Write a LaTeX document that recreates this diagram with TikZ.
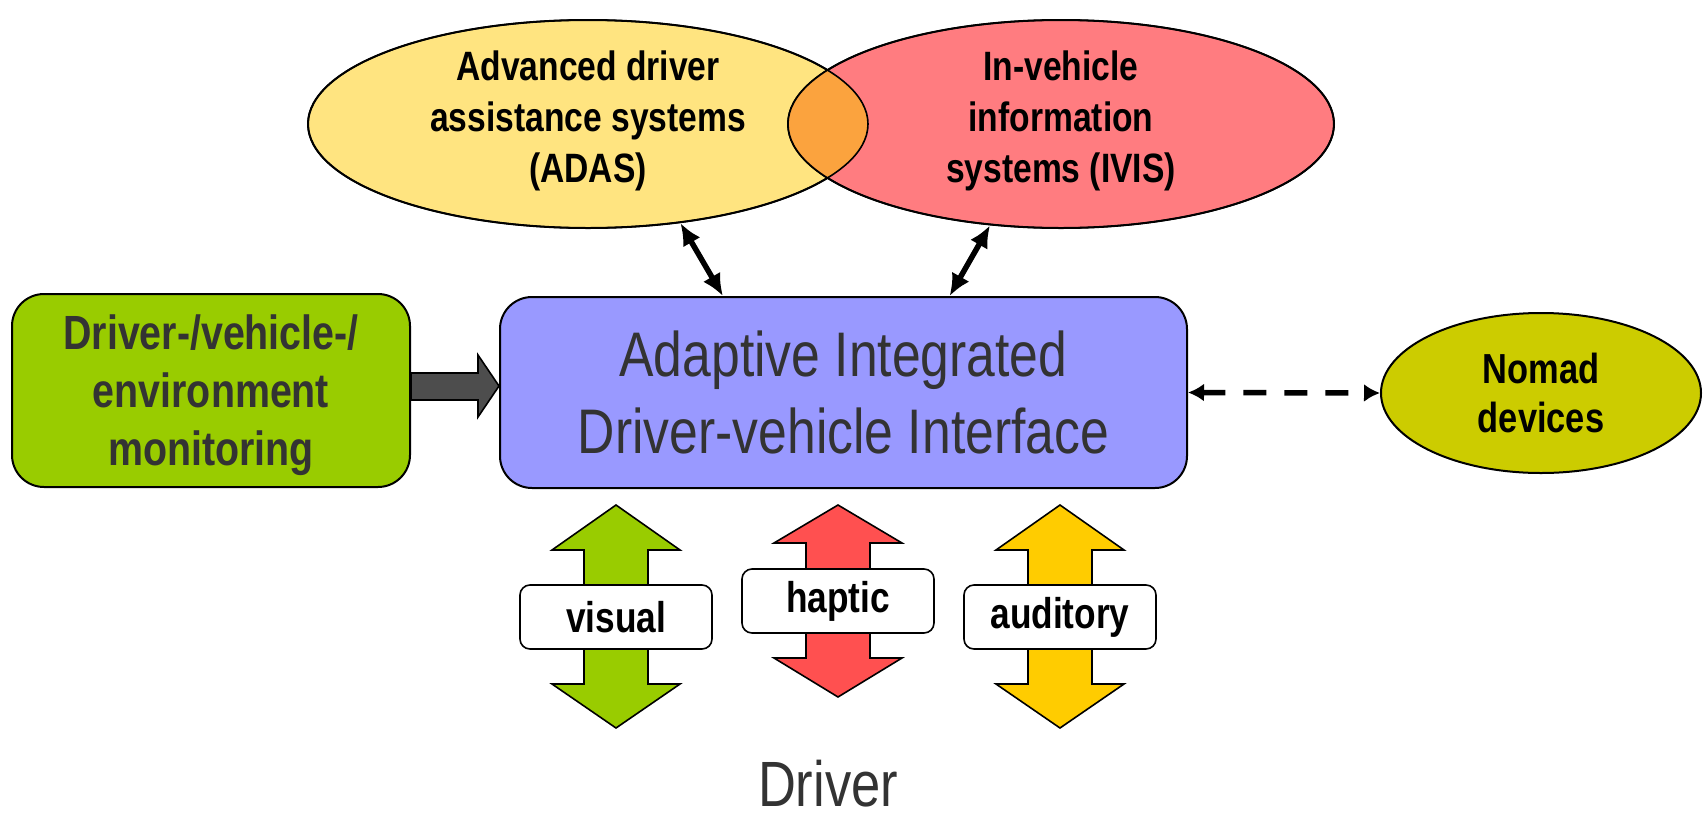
\documentclass[tikz,border=0pt]{standalone}
\usepackage{fontspec}
\setmainfont{Liberation Sans}[FakeStretch=0.82]
\usepackage{tikz}
\usetikzlibrary{calc, shapes, arrows.meta}
\tikzset{>=latex}
\definecolor{adasyellow}{HTML}{FFE480}
\definecolor{ivisred}{HTML}{FF7C80}
\definecolor{overlaporange}{HTML}{FBA33E}
\definecolor{aidviblue}{HTML}{9999FF}
\definecolor{monitorgreen}{HTML}{99CC00}
\definecolor{nomadolive}{HTML}{CCCC00}
\definecolor{arrowgray}{HTML}{4D4D4D}
\definecolor{hapticred}{HTML}{FF5050}
\definecolor{auditoryyellow}{HTML}{FFCC00}
\definecolor{textgray}{HTML}{333333}

\begin{document}
\begin{tikzpicture}[x=0.5pt, y=-0.5pt,
  box/.style={draw=black, line width=1pt, rounded corners=16pt, inner sep=0pt, align=center},
  oval/.style={ellipse, draw=black, line width=1pt, inner sep=0pt, align=center, font=\bfseries\fontsize{20.5}{25.5}\selectfont},
  modelabel/.style={draw=black, line width=0.8pt, fill=white, rounded corners=5pt, minimum width=96pt, minimum height=32pt, inner sep=0pt, font=\bfseries\fontsize{21.5}{25}\selectfont},
  blockarrow/.style={draw=black, line width=0.8pt}]
\useasboundingbox (0,0) rectangle (1704,820);

% systems on top
\node[oval, fill=adasyellow, minimum width=280pt, minimum height=104pt, text depth=7pt] (adas) at (588,124) {Advanced driver\\assistance systems\\(ADAS)};
\node[oval, fill=ivisred, minimum width=273pt, minimum height=104pt, text depth=7pt] (ivis) at (1061,124) {In-vehicle\\information\\systems (IVIS)};
\begin{scope}
\clip (adas.center) ellipse [x radius=140pt, y radius=52pt];
\fill[overlaporange] (ivis.center) ellipse [x radius=136.5pt, y radius=52pt];
\end{scope}
\draw[line width=0.8pt] (adas.center) ellipse [x radius=140pt, y radius=52pt]
  (ivis.center) ellipse [x radius=136.5pt, y radius=52pt];

% interface and the blocks beside it
\node[box, fill=aidviblue, minimum width=343.5pt, minimum height=95.5pt, text=textgray, font=\fontsize{31.5}{38.5}\selectfont] (aidvi) at (843.5,392.5) {Adaptive Integrated\\Driver-vehicle Interface};
\node[box, fill=monitorgreen, minimum width=199pt, minimum height=96.5pt, text=textgray, text depth=0pt, font=\bfseries\fontsize{24}{29}\selectfont] (monitor) at (211,390.5) {Driver-/vehicle-/\\environment\\monitoring};
\node[oval, fill=nomadolive, minimum width=160pt, minimum height=80pt, font=\bfseries\fontsize{21}{24.5}\selectfont] (nomad) at (1541,393) {Nomad\\devices};

\path[<->, line width=2.75pt, >={Latex[length=11pt,width=10pt]}]
(adas.-47) edge ($(aidvi.north west)!0.325!(aidvi.north east)$)
(ivis.-125) edge ($(aidvi.north west)!0.654!(aidvi.north east)$);
\draw[<->, line width=2.75pt, dash pattern=on 11.5pt off 9pt, >={Latex[length=8pt,width=9pt]}] (aidvi.east) -- (nomad.west);
\draw[blockarrow, fill=arrowgray] (monitor.east |- 0,373) -- (478,373) -- (478,355) -- (aidvi.west |- 0,386) -- (478,417) -- (478,400) -- (monitor.east |- 0,400) -- cycle;

% channels to the driver
\foreach \x/\top/\hb/\bb/\bot/\col in {616/505/550/684/728/monitorgreen, 838/505/543/658/697/hapticred, 1060/505/550/684/728/auditoryyellow}
  \draw[blockarrow, fill=\col] (\x,\top) -- (\x+64,\hb) -- (\x+32,\hb) -- (\x+32,\bb) -- (\x+64,\bb) -- (\x,\bot)
    -- (\x-64,\bb) -- (\x-32,\bb) -- (\x-32,\hb) -- (\x-64,\hb) -- cycle;
\node[modelabel] (visual) at (616,617) {visual};
\node[modelabel] (haptic) at (838,601) {haptic};
\node[modelabel] (auditory) at (1060,617) {auditory};

\node[text=textgray, font=\fontsize{32}{38}\selectfont] (driver) at (828,784) {Driver};
\end{tikzpicture}
\end{document}
